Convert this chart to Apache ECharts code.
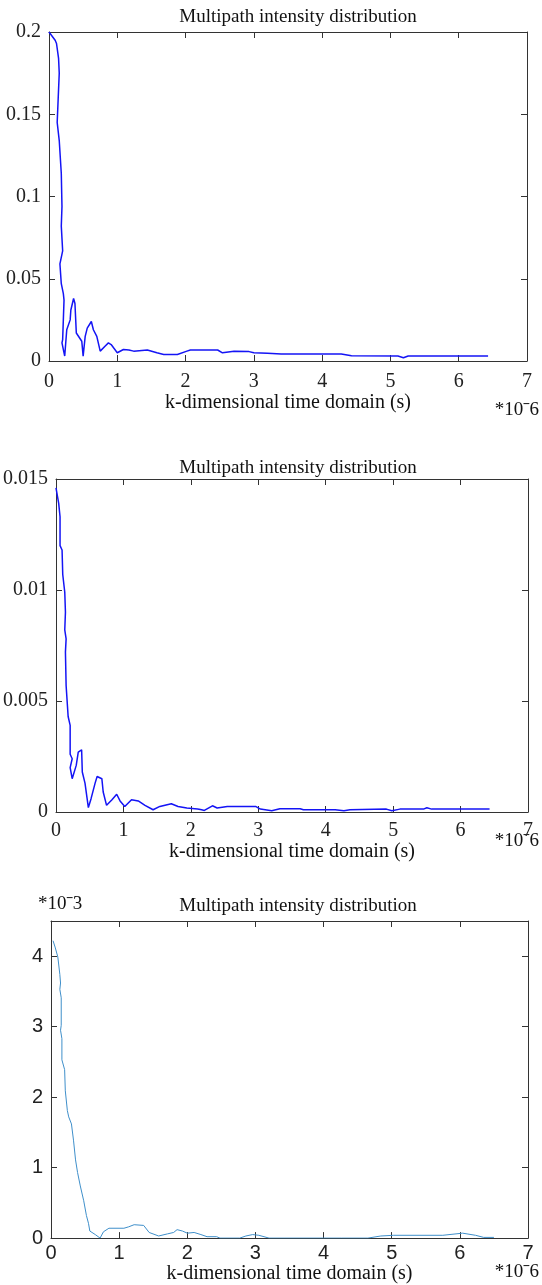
<!DOCTYPE html>
<html>
<head>
<meta charset="utf-8">
<script src="https://cdn.jsdelivr.net/npm/echarts@6/dist/echarts.min.js"></script>
<style>
  html, body { margin: 0; padding: 0; background: #fff; }
  #main { width: 542px; height: 1285px; }
</style>
</head>
<body>
<div id="main"></div>
<script>
// ==============================================================
// data (x in units of 1e-6 s)
// ==============================================================
var xTicks = [0, 1, 2, 3, 4, 5, 6, 7];

// panel 1
var x1 = [0, 0.09, 0.11, 0.14, 0.15, 0.12, 0.15, 0.18, 0.19, 0.18, 0.20, 0.16, 0.18, 0.21, 0.22, 0.20, 0.19, 0.23,
          0.26, 0.31, 0.32, 0.36, 0.38, 0.40, 0.48, 0.50, 0.53, 0.56, 0.62, 0.65, 0.70, 0.75, 0.82, 0.87, 0.91, 1.0,
          1.09, 1.17, 1.24, 1.44, 1.58, 1.68, 1.88, 2.02, 2.07, 2.47, 2.54, 2.71, 2.93, 3.0, 3.2, 3.4, 4.28, 4.43,
          5.11, 5.19, 5.26, 6.43];
var y1 = [0.2, 0.195, 0.193, 0.184, 0.175, 0.145, 0.134, 0.114, 0.094, 0.082, 0.067, 0.059, 0.047, 0.041, 0.037, 0.013, 0.011, 0.003,
          0.019, 0.025, 0.031, 0.038, 0.035, 0.017, 0.012, 0.003, 0.015, 0.020, 0.024, 0.019, 0.015, 0.006, 0.009, 0.011, 0.010, 0.005,
          0.007, 0.0067, 0.006, 0.0067, 0.005, 0.004, 0.004, 0.006, 0.0067, 0.0067, 0.005, 0.0059, 0.0057, 0.005, 0.0047, 0.0043, 0.0043, 0.0032,
          0.003, 0.002, 0.003, 0.003];

// panel 2
var x2 = [0, 0.04, 0.06, 0.06, 0.09, 0.10, 0.13, 0.14, 0.13, 0.15, 0.14, 0.15, 0.18, 0.21, 0.21, 0.24, 0.21, 0.24,
          0.29, 0.30, 0.33, 0.38, 0.39, 0.43, 0.48, 0.52, 0.58, 0.61, 0.68, 0.70, 0.75, 0.83, 0.90, 0.95, 1.02, 1.12,
          1.22, 1.32, 1.44, 1.54, 1.71, 1.81, 1.94, 2.10, 2.16, 2.20, 2.32, 2.39, 2.54, 2.96, 3.03, 3.20, 3.32, 3.62,
          3.67, 4.14, 4.27, 4.36, 4.90, 4.98, 5.10, 5.45, 5.50, 5.57, 6.43];
var y2 = [0.0146, 0.0139, 0.0133, 0.0120, 0.0118, 0.0107, 0.0099, 0.0090, 0.0082, 0.0078, 0.0072, 0.0057, 0.0043, 0.0039, 0.0026, 0.0024, 0.0020, 0.0015,
          0.0020, 0.0021, 0.0027, 0.0028, 0.0018, 0.0013, 0.0002, 0.0006, 0.0013, 0.0016, 0.0015, 0.0009, 0.0003, 0.00055, 0.0008, 0.0005, 0.00025, 0.00055,
          0.0005, 0.0003, 0.0001, 0.00025, 0.00037, 0.00025, 0.00018, 0.00013, 0.0001, 0.00007, 0.00028, 0.00018, 0.00025, 0.00025, 0.00013, 0.00006, 0.00015, 0.00015,
          0.0001, 0.0001, 0.00006, 0.0001, 0.00013, 0.00006, 0.00013, 0.00013, 0.00019, 0.00013, 0.00013];

// panel 3 (y in units of 1e-3)
var x3 = [0.03, 0.06, 0.10, 0.13, 0.14, 0.13, 0.15, 0.15, 0.14, 0.16, 0.16, 0.20, 0.21, 0.24, 0.26, 0.30, 0.33, 0.36,
          0.39, 0.43, 0.48, 0.52, 0.55, 0.57, 0.65, 0.72, 0.77, 0.85, 1.07, 1.14, 1.22, 1.36, 1.44, 1.58, 1.71, 1.80,
          1.85, 1.93, 2.0, 2.1, 2.2, 2.29, 2.43, 2.48, 2.77, 2.86, 2.96, 3.05, 3.2, 3.42, 4.26, 4.65, 4.84, 5.03,
          5.75, 6.04, 6.23, 6.35, 6.5];
var y3 = [4.22, 4.13, 3.99, 3.74, 3.62, 3.53, 3.41, 3.02, 2.95, 2.83, 2.53, 2.39, 2.09, 1.81, 1.72, 1.62, 1.39, 1.11,
          0.93, 0.74, 0.53, 0.32, 0.21, 0.10, 0.05, 0.0, 0.09, 0.14, 0.14, 0.16, 0.19, 0.18, 0.08, 0.03, 0.06, 0.08,
          0.12, 0.10, 0.07, 0.08, 0.05, 0.02, 0.02, 0.0, 0.0, 0.03, 0.05, 0.04, 0.0, 0.0, 0.0, 0.0, 0.03, 0.04,
          0.04, 0.07, 0.04, 0.01, 0.01];

var titleText = 'Multipath intensity distribution';
var xName = 'k-dimensional time domain (s)';

function pairs(xs, ys) {
    var out = [];
    for (var i = 0; i < xs.length; i++) out.push([xs[i], ys[i]]);
    return out;
}

var serif = 'Liberation Serif';
var sans = 'Liberation Sans';
var axisColor = '#333';

var grids = [
    {left: 49, width: 478, top: 32, height: 329},
    {left: 51, width: 477, top: 479, height: 333},
    {left: 51, width: 477, top: 921, height: 322}
];

function bottomAxis(gi, font, size, margin, nameGap) {
    return {
        type: 'value', gridIndex: gi, position: 'bottom',
        min: 0, max: 7, interval: 1,
        name: xName, nameLocation: 'middle', nameGap: nameGap,
        nameTextStyle: {fontFamily: serif, fontSize: 20, color: '#111'},
        axisLine: {show: true, onZero: false, lineStyle: {color: axisColor, width: 1}},
        axisTick: {show: true, inside: true, length: 6, lineStyle: {color: axisColor}},
        axisLabel: {fontFamily: font, fontSize: size, color: '#222', margin: margin},
        splitLine: {show: false}
    };
}
function topAxis(gi) {
    return {
        type: 'value', gridIndex: gi, position: 'top',
        min: 0, max: 7, interval: 1,
        axisLine: {show: true, onZero: false, lineStyle: {color: axisColor, width: 1}},
        axisTick: {show: true, inside: true, length: 6, lineStyle: {color: axisColor}},
        axisLabel: {show: false},
        splitLine: {show: false}
    };
}
function leftAxis(gi, max, interval, font, size, extra) {
    var ax = {
        type: 'value', gridIndex: gi, position: 'left',
        min: 0, max: max, interval: interval,
        axisLine: {show: true, onZero: false, lineStyle: {color: axisColor, width: 1}},
        axisTick: {show: true, inside: true, length: 6, lineStyle: {color: axisColor}},
        axisLabel: {fontFamily: font, fontSize: size, color: '#222', margin: 8},
        splitLine: {show: false}
    };
    if (extra) for (var k in extra) ax.axisLabel[k] = extra[k];
    return ax;
}
function rightAxis(gi, max, interval) {
    return {
        type: 'value', gridIndex: gi, position: 'right',
        min: 0, max: max, interval: interval,
        axisLine: {show: true, onZero: false, lineStyle: {color: axisColor, width: 1}},
        axisTick: {show: true, inside: true, length: 6, lineStyle: {color: axisColor}},
        axisLabel: {show: false},
        splitLine: {show: false}
    };
}

var dom = document.getElementById('main');
var myChart = echarts.init(dom);

var titleStyle = {fontFamily: serif, fontSize: 19, fontWeight: 'normal', color: '#111'};

function powText(txt) {
    return {text: txt, fontFamily: serif, fontSize: 19, fill: '#111'};
}

var option = {
    animation: false,
    backgroundColor: '#fff',
    title: [
        {text: titleText, left: 293, top: 3, textAlign: 'center', textStyle: titleStyle},
        {text: titleText, left: 293, top: 454, textAlign: 'center', textStyle: titleStyle},
        {text: titleText, left: 293, top: 892, textAlign: 'center', textStyle: titleStyle}
    ],
    grid: grids,
    xAxis: [
        bottomAxis(0, serif, 20, 11, 30), topAxis(0),
        bottomAxis(1, serif, 20, 9, 23), topAxis(1),
        bottomAxis(2, sans, 20, 5, 18), topAxis(2)
    ],
    yAxis: [
        leftAxis(0, 0.2, 0.05, serif, 20), rightAxis(0, 0.2, 0.05),
        leftAxis(1, 0.015, 0.005, serif, 20), rightAxis(1, 0.015, 0.005),
        leftAxis(2, 4.5, 1, sans, 20, {showMaxLabel: false}), rightAxis(2, 4.5, 1)
    ],
    graphic: [
        {type: 'text', right: 3, top: 401, silent: true, style: powText('*10ˉ6')},
        {type: 'text', right: 3, top: 832, silent: true, style: powText('*10ˉ6')},
        {type: 'text', right: 3, top: 1263, silent: true, style: powText('*10ˉ6')},
        {type: 'text', left: 38, top: 895, silent: true, style: powText('*10ˉ3')}
    ],
    series: [
        {type: 'line', xAxisIndex: 0, yAxisIndex: 0, data: pairs(x1, y1), showSymbol: false,
         lineStyle: {color: '#1414f5', width: 1.5}, itemStyle: {color: '#1414f5'}},
        {type: 'line', xAxisIndex: 2, yAxisIndex: 2, data: pairs(x2, y2), showSymbol: false,
         lineStyle: {color: '#1414f5', width: 1.5}, itemStyle: {color: '#1414f5'}},
        {type: 'line', xAxisIndex: 4, yAxisIndex: 4, data: pairs(x3, y3), showSymbol: false,
         lineStyle: {color: '#3f8fca', width: 1}, itemStyle: {color: '#3f8fca'}}
    ]
};

myChart.setOption(option, true);
</script>
</body>
</html>
